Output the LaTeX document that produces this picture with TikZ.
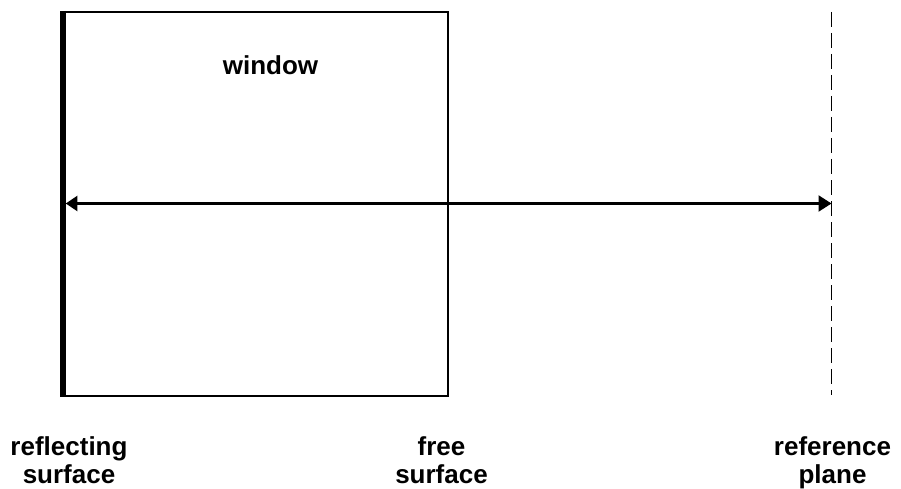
\documentclass[tikz,border=0pt]{standalone}
\usepackage{fontspec}
\setmainfont{Liberation Sans}
\usetikzlibrary{arrows.meta}
\begin{document}
\begin{tikzpicture}[x=1pt,y=-1pt,
  lbl/.style={font=\bfseries\fontsize{26}{26.5}\selectfont, align=center, anchor=base, inner sep=0pt},
  boxline/.style={line width=2pt}]
\useasboundingbox (0,0) rectangle (901,489);
\node[draw, boxline, minimum width=384pt, minimum height=384pt, inner sep=0pt, anchor=north west] (win) at (63,11) {};
\draw[line width=5.3pt] (win.north west) -- (win.south west);
\coordinate (rtop) at (831.5,12);
\coordinate (rbot) at (831.5,395);
\draw[line width=1.6pt, dash pattern=on 15pt off 6pt] (rtop) -- (rbot);
\coordinate (aL) at (65.8,203.5);
\coordinate (aR) at (831.5,203.5);
\draw[line width=2.2pt, {Triangle[length=11.5pt,width=15pt]}-{Triangle[length=13pt,width=16pt]}] (aL) -- (aR);
\node[lbl] (wlab) at (270.5,75) {window};
\node[lbl] (refl) at (69,483) {reflecting\\[1pt]surface};
\node[lbl] (free) at (441.5,483) {free\\[1pt]surface};
\node[lbl] (refp) at (832.5,483) {reference\\[1pt]plane};
\end{tikzpicture}
\end{document}
